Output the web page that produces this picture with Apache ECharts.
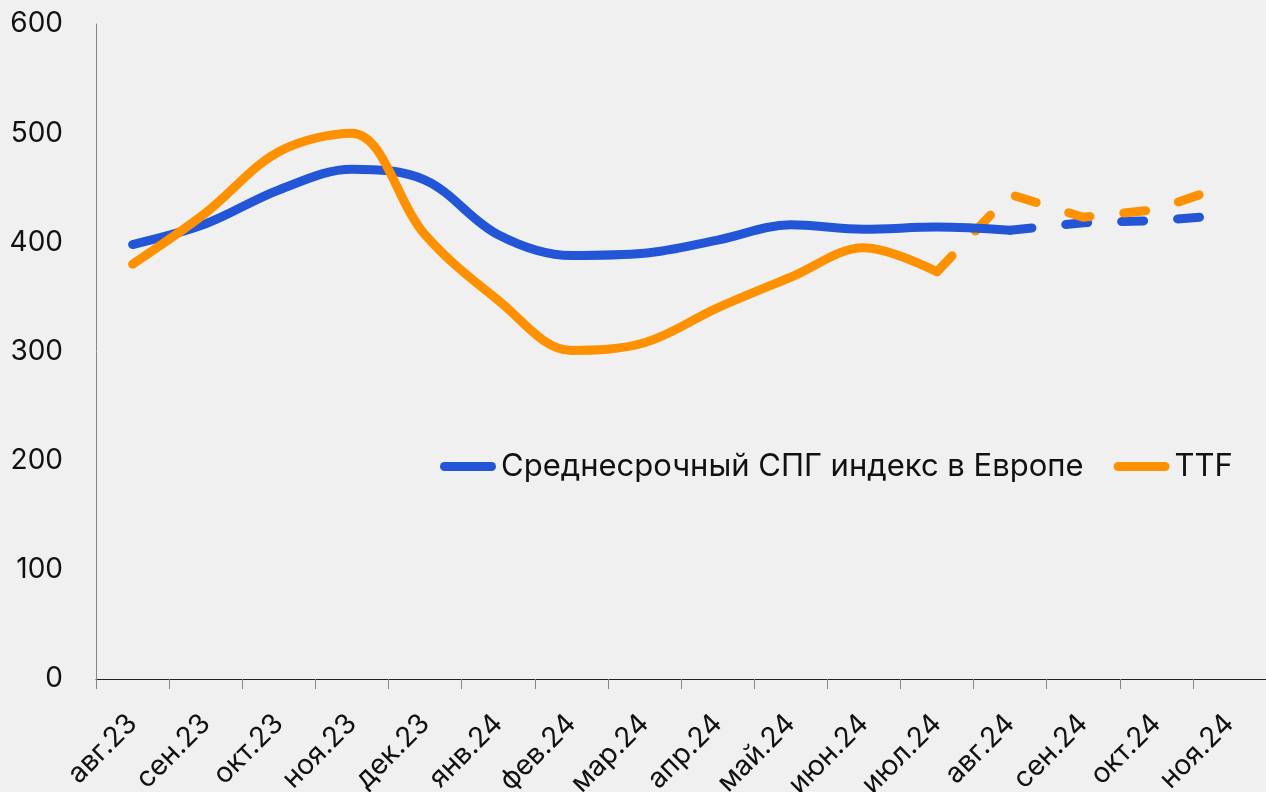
<!DOCTYPE html>
<html>
<head>
<meta charset="utf-8">
<script src="https://cdn.jsdelivr.net/npm/echarts@6/dist/echarts.min.js"></script>
<style>
  html, body { margin: 0; padding: 0; background: #f0f0f0; }
  #chart { width: 1266px; height: 792px; }
</style>
</head>
<body>
<div id="chart"></div>
<script>
const months = ['авг.23', 'сен.23', 'окт.23', 'ноя.23', 'дек.23', 'янв.24', 'фев.24', 'мар.24',
  'апр.24', 'май.24', 'июн.24', 'июл.24', 'авг.24', 'сен.24', 'окт.24', 'ноя.24']
const lngIndex = [398, 417, 448, 467, 457, 407, 388, 390, 402, 416, 412, 414, 411, 418, 420, 425]
const ttf = [380, 427, 483, 500, 407, 347, 301, 308, 340, 368, 395, 373, 444, 423, 430, 453]
// с какого месяца начинается прогноз (пунктир)
const lngForecastFrom = 12
const ttfForecastFrom = 11
const yTicks = [0, 100, 200, 300, 400, 500, 600]

const lngName = 'Среднесрочный СПГ индекс в Европе'
const ttfName = 'TTF'
const blue = '#2356d6'
const orange = '#ff9100'
const font = 'Inter, "Noto Sans", sans-serif'

// делим ряд на факт и прогноз
function part (arr, from, forecast) {
  return arr.map((v, i) => forecast ? (i >= from ? v : null) : (i <= from ? v : null))
}

function lineSeries (name, data, color, dashed) {
  return {
    name: name,
    type: 'line',
    data: data,
    symbol: 'none',
    smooth: dashed ? false : 0.35,
    connectNulls: false,
    z: dashed ? 2 : 3,
    lineStyle: {
      color: color,
      width: 9,
      cap: 'round',
      join: 'round',
      type: dashed ? [22, 34] : 'solid'
    },
    itemStyle: { color: color }
  }
}

const chart = echarts.init(document.getElementById('chart'))
const legendIcon = 'path://M4.5,0 L51.5,0 A4.5,4.5 0 0 1 51.5,9 L4.5,9 A4.5,4.5 0 0 1 4.5,0 Z'

chart.setOption({
  backgroundColor: '#f0f0f0',
  animation: false,
  textStyle: { fontFamily: font },
  grid: {
    left: 96,
    right: 0,
    top: 24,
    bottom: 113,
    containLabel: false,
    outerBoundsMode: 'none'
  },
  legend: {
    data: [lngName, ttfName],
    left: 435,
    top: 446,
    icon: legendIcon,
    itemWidth: 56,
    itemHeight: 9,
    itemGap: 30,
    textStyle: { fontSize: 31, color: '#111', fontFamily: font }
  },
  xAxis: {
    type: 'category',
    data: months,
    boundaryGap: true,
    axisLine: { lineStyle: { color: '#222', width: 1 } },
    axisTick: { show: true, length: 10, lineStyle: { color: '#888' } },
    axisLabel: {
      rotate: 45,
      margin: 40,
      fontSize: 28,
      color: '#111',
      fontFamily: font,
      interval: 0
    },
    splitLine: { show: false }
  },
  yAxis: {
    type: 'value',
    min: yTicks[0],
    max: yTicks[yTicks.length - 1],
    interval: 100,
    axisLine: { show: true, lineStyle: { color: '#888', width: 1 } },
    axisTick: { show: false },
    axisLabel: { fontSize: 28, color: '#111', margin: 33, fontFamily: font },
    splitLine: { show: false }
  },
  series: [
    lineSeries(lngName, part(lngIndex, lngForecastFrom, false), blue, false),
    lineSeries(ttfName, part(ttf, ttfForecastFrom, false), orange, false),
    lineSeries(lngName, part(lngIndex, lngForecastFrom, true), blue, true),
    lineSeries(ttfName, part(ttf, ttfForecastFrom, true), orange, true)
  ]
})
</script>
</body>
</html>
